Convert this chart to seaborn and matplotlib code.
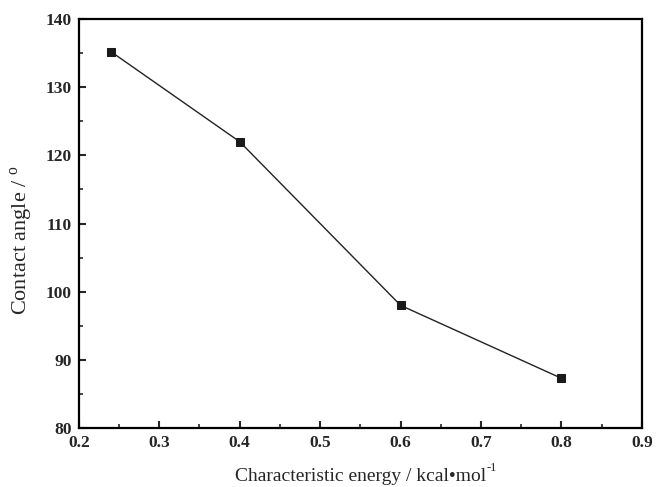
import matplotlib
matplotlib.use("Agg")
import matplotlib.pyplot as plt
import seaborn as sns
import pandas as pd
from matplotlib.ticker import MultipleLocator

energy = [0.24, 0.40, 0.60, 0.80]
angle = [135.2, 122.0, 98.0, 87.3]

sns.set_style("ticks")
plt.rcParams['font.family'] = ['Liberation Serif', 'DejaVu Serif']
plt.rcParams['mathtext.fontset'] = 'custom'
plt.rcParams['mathtext.rm'] = 'Liberation Serif'

df = pd.DataFrame({"energy": energy, "angle": angle})

fig = plt.figure(figsize=(6.57, 4.87), dpi=100)
ax = fig.add_axes([0.120, 0.121, 0.857, 0.840])
sns.lineplot(data=df, x="energy", y="angle", ax=ax, color="#222222", linewidth=1.0,
             marker="s", markersize=6, markeredgecolor="#1a1a1a", markerfacecolor="#1a1a1a")

ax.set_xlim(0.2, 0.9)
ax.set_ylim(80, 140)
ax.xaxis.set_major_locator(MultipleLocator(0.1))
ax.xaxis.set_minor_locator(MultipleLocator(0.05))
ax.yaxis.set_major_locator(MultipleLocator(10))
ax.yaxis.set_minor_locator(MultipleLocator(5))
ax.tick_params(which='major', direction='in', length=5, width=1.5, top=False, right=False, pad=5)
ax.tick_params(which='minor', direction='in', length=3, width=1.2, top=False, right=False)
for lab in ax.get_xticklabels() + ax.get_yticklabels():
    lab.set_fontweight('bold')
    lab.set_fontsize(12.5)
for s in ax.spines.values():
    s.set_linewidth(1.6)
    s.set_color('black')

ax.set_xlabel("Characteristic energy / kcal•mol", fontsize=14, labelpad=12)
ax.set_ylabel("Contact angle / $^{\\mathregular{o}}$", fontsize=16, labelpad=6)
ax.yaxis.set_label_coords(-0.077, 0.46)

fig.canvas.draw()
bb = ax.xaxis.label.get_window_extent()
fig.text(bb.x1 / fig.dpi / 6.57 + 0.001, (bb.y1 - 6) / fig.dpi / 4.87, "-1",
         fontsize=9, ha='left', va='bottom')

fig.savefig("out.png", dpi=100)
